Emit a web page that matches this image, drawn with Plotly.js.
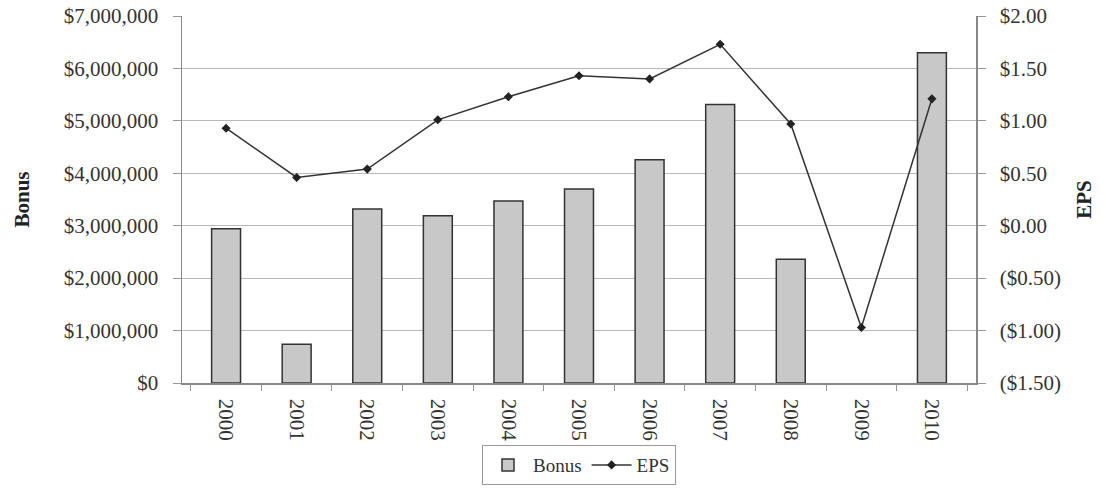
<!DOCTYPE html>
<html>
<head>
<meta charset="utf-8">
<script src="https://cdn.plot.ly/plotly-3.0.1.min.js"></script>
<style>html,body{margin:0;padding:0;background:#fff;}#chart{width:1106px;height:488px;}</style>
</head>
<body>
<div id="chart"></div>
<script>
var years = ["2000","2001","2002","2003","2004","2005","2006","2007","2008","2009","2010"];
var bonus = [2940000, 740000, 3320000, 3190000, 3470000, 3700000, 4260000, 5310000, 2360000, 0, 6300000];
var eps = [0.93, 0.46, 0.54, 1.01, 1.23, 1.43, 1.40, 1.73, 0.97, -0.97, 1.21];
var leftTickVals = [0, 1000000, 2000000, 3000000, 4000000, 5000000, 6000000, 7000000];
var leftTickText = ["$0", "$1,000,000", "$2,000,000", "$3,000,000", "$4,000,000", "$5,000,000", "$6,000,000", "$7,000,000"];
var rightTickVals = [-1.5, -1.0, -0.5, 0, 0.5, 1.0, 1.5, 2.0];
var rightTickText = ["($1.50)", "($1.00)", "($0.50)", "$0.00", "$0.50", "$1.00", "$1.50", "$2.00"];

var font = "'Liberation Serif', 'Times New Roman', serif";
var tickFont = {family: font, size: 21, color: "#333"};
var titleFont = {family: font, size: 21, color: "#222", weight: "bold"};
var traces = [
  {
    type: "bar", name: "Bonus", x: years, y: bonus,
    marker: {color: "#c8c8c8", line: {color: "#333", width: bonus.map(function (v) { return v > 0 ? 1.5 : 0; })}},
    yaxis: "y"
  },
  {
    type: "scatter", mode: "lines+markers", name: "EPS", x: years, y: eps,
    line: {color: "#333", width: 1.5},
    marker: {symbol: "diamond", size: 7, color: "#222"},
    yaxis: "y2"
  }
];
var layout = {
  width: 1106, height: 488,
  margin: {l: 182, r: 130, t: 16, b: 105},
  paper_bgcolor: "#fff", plot_bgcolor: "#fff",
  font: {family: font, size: 21, color: "#333"},
  bargap: 0.59,
  showlegend: true,
  legend: {
    orientation: "h", x: 0.5, xanchor: "center", xref: "paper",
    y: 0.088, yanchor: "top", yref: "container",
    bordercolor: "#999", borderwidth: 1, font: {family: font, size: 19, color: "#333"},
    traceorder: "normal", itemwidth: 40, tracegroupgap: 0
  },
  xaxis: {
    type: "category", tickangle: 90, tickson: "boundaries", automargin: false,
    ticks: "outside", ticklen: 6, tickcolor: "#999", ticklabelstandoff: 10,
    showline: true, linecolor: "#888", linewidth: 1.5,
    showgrid: false, tickfont: tickFont
  },
  yaxis: {
    range: [0, 7000000], tickvals: leftTickVals, ticktext: leftTickText, automargin: false,
    ticks: "outside", ticklen: 8, tickcolor: "#999", ticklabelstandoff: 10,
    showline: true, linecolor: "#888", linewidth: 1.5,
    showgrid: true, gridcolor: "#b8b8b8", gridwidth: 1, zeroline: false,
    title: {text: "Bonus", font: titleFont, standoff: 28},
    tickfont: tickFont
  },
  yaxis2: {
    overlaying: "y", side: "right", automargin: false,
    range: [-1.5, 2.0], tickvals: rightTickVals, ticktext: rightTickText,
    ticks: "outside", ticklen: 8, tickcolor: "#999", ticklabelstandoff: 10,
    showline: true, linecolor: "#888", linewidth: 1.5,
    showgrid: false, zeroline: false,
    title: {text: "EPS", font: titleFont, standoff: 16},
    tickfont: tickFont
  }
};
Plotly.newPlot("chart", traces, layout, {displayModeBar: false, staticPlot: true});
</script>
</body>
</html>
